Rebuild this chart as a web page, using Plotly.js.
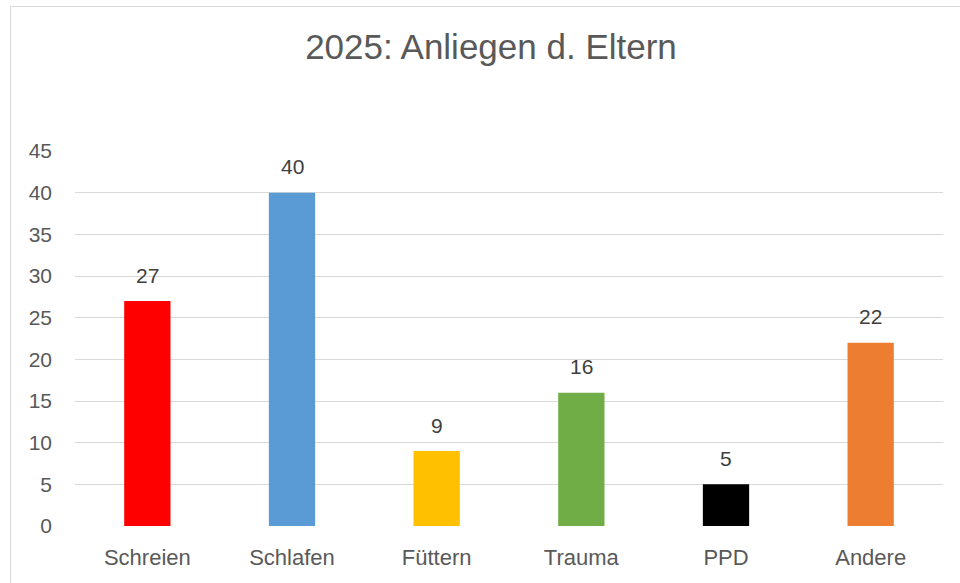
<!DOCTYPE html>
<html>
<head>
<meta charset="utf-8">
<script src="https://cdn.plot.ly/plotly-3.0.1.min.js"></script>
<style>
    body { margin: 0; overflow: hidden; background: #fff; }
    #chart { position: absolute; left: 10px; top: 6px; width: 960px; height: 583px; border: 1px solid #d9d9d9; }
</style>
</head>
<body>
<div id="chart"></div>
<script>
// Data
let categories = ['Schreien', 'Schlafen', 'Füttern', 'Trauma', 'PPD', 'Andere'];
let counts = [27, 40, 9, 16, 5, 22];
let barColors = ['#ff0000', '#5b9bd5', '#ffc000', '#70ad47', '#000000', '#ed7d31'];

let chart = document.getElementById('chart');
let fontName = 'Liberation Sans, Arial, sans-serif';

let trace = {
    type: 'bar',
    x: categories,
    y: counts,
    marker: {color: barColors},
    hoverinfo: 'x+y'
};

// value labels sit a bit higher above the bars than plotly's outside text
let valueLabels = categories.map(function(c, i) {
    return {
        x: c,
        y: counts[i],
        text: String(counts[i]),
        showarrow: false,
        yanchor: 'middle',
        yshift: 26,
        font: {family: fontName, size: 21, color: '#404040'}
    };
});

let layout = {
    width: 960,
    height: 583,
    margin: {l: 64, r: 28, t: 144, b: 64},
    paper_bgcolor: '#ffffff',
    plot_bgcolor: '#ffffff',
    bargap: 0.68,
    font: {family: fontName, color: '#595959'},
    title: {
        text: '2025: Anliegen d. Eltern',
        font: {size: 35, color: '#595959'},
        x: 0.5, xanchor: 'center',
        y: 0.931, yanchor: 'middle'
    },
    xaxis: {
        showgrid: false,
        zeroline: false,
        showline: false,
        ticks: '',
        ticklabelstandoff: 16,
        tickfont: {size: 22, color: '#595959'}
    },
    yaxis: {
        range: [0, 45],
        dtick: 5,
        showgrid: true,
        gridcolor: '#d9d9d9',
        gridwidth: 1.3,
        zeroline: false,
        showline: false,
        ticks: '',
        ticklabelstandoff: 22,
        tickfont: {size: 21, color: '#595959'}
    },
    annotations: valueLabels,
    showlegend: false
};

Plotly.newPlot(chart, [trace], layout, {displayModeBar: false});
</script>
</body>
</html>
